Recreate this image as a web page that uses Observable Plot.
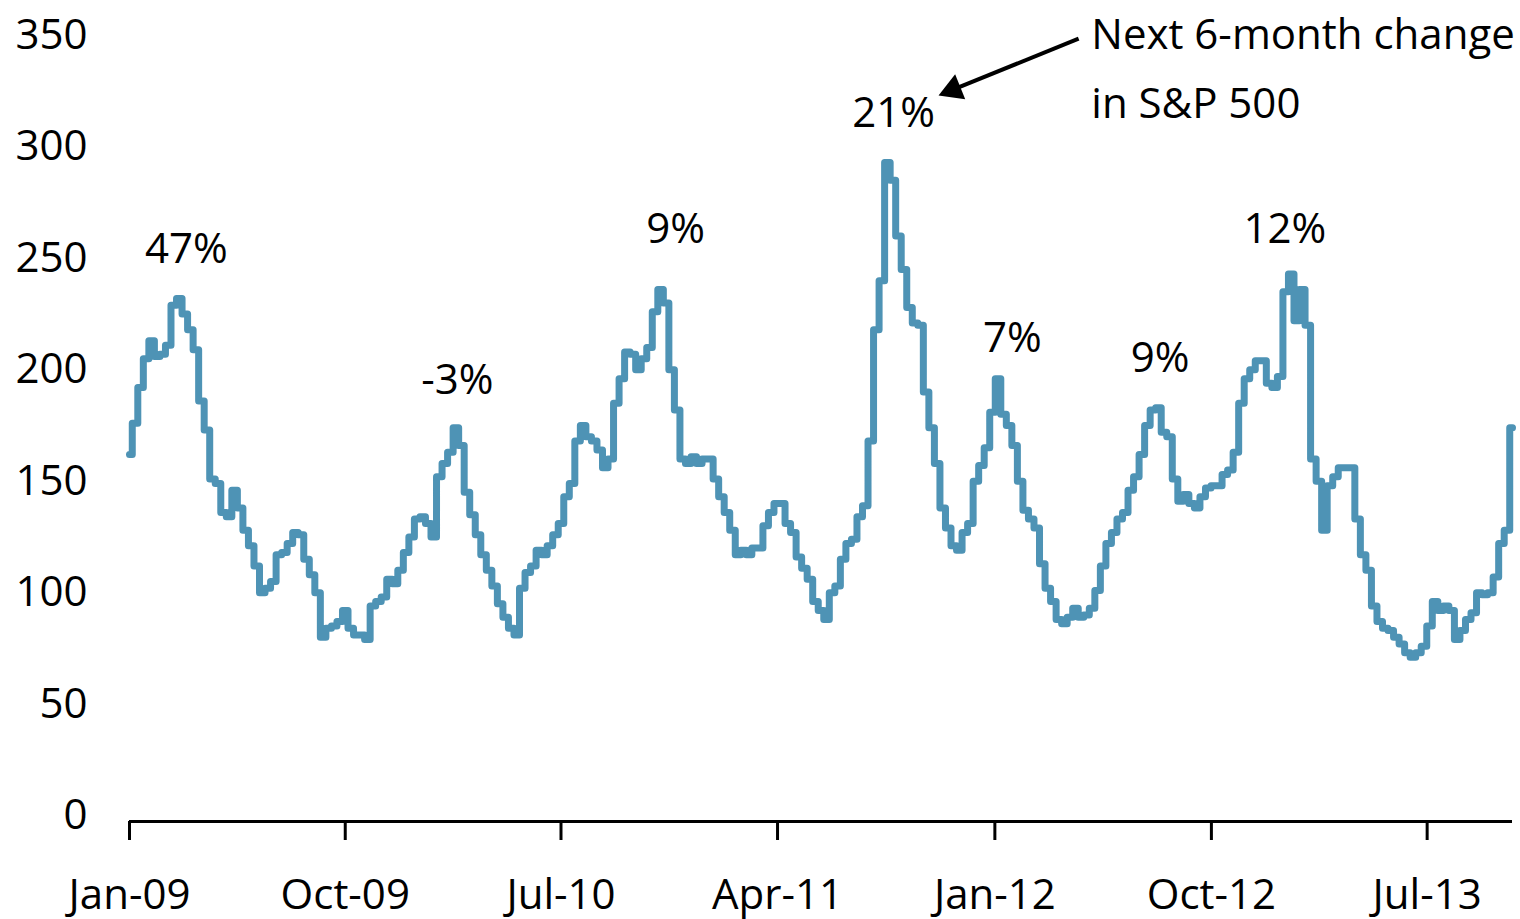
<!DOCTYPE html>
<html>
<head>
<meta charset="utf-8">
<script src="https://cdn.jsdelivr.net/npm/d3@7"></script>
<script src="https://cdn.jsdelivr.net/npm/@observablehq/plot@0.6"></script>
<style>
  html, body { margin: 0; padding: 0; background: #fff; }
  #chart { width: 1520px; height: 919px; }
</style>
</head>
<body>
<div id="chart"></div>
<script>
// Weekly series, first observation 1 Jan 2009
const startDate = "2009-01-01";
const values = [
  162,176,192,205,213,206,207,211,229,232,
  225,218,209,186,173,151,149,136,134,146,
  138,128,121,112,100,102,105,117,118,122,
  127,126,115,108,100,80,84,85,87,92,
  84,81,81,79,94,96,98,106,104,110,
  118,125,133,134,131,125,152,158,163,174,
  166,145,135,126,117,110,103,95,89,84,
  81,102,109,112,119,117,121,126,131,143,
  149,168,175,170,168,164,156,160,185,196,
  208,207,200,205,210,226,236,230,200,182,
  160,158,161,158,160,160,151,143,136,128,
  117,119,117,120,120,130,136,140,140,131,
  127,116,111,106,96,92,88,100,103,115,
  122,124,134,139,168,218,240,293,285,260,
  245,228,221,220,190,174,158,138,129,121,
  119,127,131,150,157,165,181,196,180,175,
  166,150,137,133,129,113,102,96,88,86,
  89,93,89,90,93,101,112,122,127,133,
  136,146,152,162,175,182,183,172,170,151,
  141,144,140,138,143,147,148,148,153,155,
  163,185,196,200,204,204,194,192,197,235,
  243,222,236,220,160,150,128,148,152,156,
  156,156,133,117,110,94,87,84,83,80,
  77,73,71,73,76,85,96,92,94,92,
  79,83,88,91,100,99,100,107,122,128,
  174
];

const yTicks = [0, 50, 100, 150, 200, 250, 300, 350];
const xTickDates = ["2009-01-01","2009-10-01","2010-07-01","2011-04-01","2012-01-01","2012-10-01","2013-07-01"];
const xTickLabels = ["Jan-09","Oct-09","Jul-10","Apr-11","Jan-12","Oct-12","Jul-13"];

const peakDates = ["2009-03-14","2010-02-20","2010-11-23","2011-08-26","2012-01-23","2012-07-28","2013-01-02"];
const peakLevels = [254, 195, 263, 315, 214, 205, 263];
const peakLabels = ["47%","-3%","9%","21%","7%","9%","12%"];

const noteLines = ["Next 6-month change", "in S&P 500"];
const noteDate = "2012-05-02";
const noteLevels = [350, 319];
const arrowFrom = {date: "2012-04-16", level: 348.6};
const arrowTo = {date: "2011-11-09", level: 325.7};

// Build tables
const parse = d3.utcParse("%Y-%m-%d");
const start = parse(startDate);
const series = values.map((v, i) => ({date: d3.utcDay.offset(start, 7 * i), value: v}));
const tickDates = xTickDates.map(parse);
const labelOf = new Map(tickDates.map((d, i) => [+d, xTickLabels[i]]));
const peaks = peakDates.map((d, i) => ({date: parse(d), level: peakLevels[i], label: peakLabels[i]}));
const notes = noteLines.map((t, i) => ({date: parse(noteDate), level: noteLevels[i], text: t}));
const arrow = [{x1: parse(arrowFrom.date), y1: arrowFrom.level, x2: parse(arrowTo.date), y2: arrowTo.level}];

const font = "'Open Sans', 'Noto Sans', sans-serif";

const chart = Plot.plot({
  width: 1520,
  height: 919,
  marginLeft: 129,
  marginRight: 8,
  marginTop: 35,
  marginBottom: 104,
  style: {fontFamily: font, fontSize: "42px", color: "#000", background: "#fff", overflow: "visible"},
  x: {type: "utc", domain: [start, series[series.length - 1].date]},
  y: {domain: [0, 350]},
  marks: [
    Plot.axisY(yTicks, {tickSize: 0, tickPadding: 42, fontSize: 42, label: null, fill: "#000"}),
    Plot.ruleY([0], {dy: 6, stroke: "#000", strokeWidth: 3}),
    Plot.axisX(tickDates, {
      tickSize: 19, tickPadding: 39, dy: 6, strokeWidth: 3, stroke: "#000", fontSize: 42, label: null,
      tickFormat: d => labelOf.get(+d)
    }),
    Plot.line(series, {x: "date", y: "value", curve: "step", stroke: "#4e93b5", strokeWidth: 7, strokeLinejoin: "round", strokeLinecap: "round"}),
    Plot.text(peaks, {x: "date", y: "level", text: "label", fontSize: 42, fill: "#000", letterSpacing: 3}),
    Plot.text(notes, {x: "date", y: "level", text: "text", fontSize: 42, fill: "#000", textAnchor: "start"}),
    Plot.link(arrow, {x1: "x1", y1: "y1", x2: "x2", y2: "y2", stroke: "#000", strokeWidth: 4}),
    Plot.dot(arrow, {x: "x2", y: "y2", symbol: "triangle", r: 10, fill: "#000", stroke: null, rotate: 248})
  ]
});

document.getElementById("chart").appendChild(chart);
</script>
</body>
</html>
